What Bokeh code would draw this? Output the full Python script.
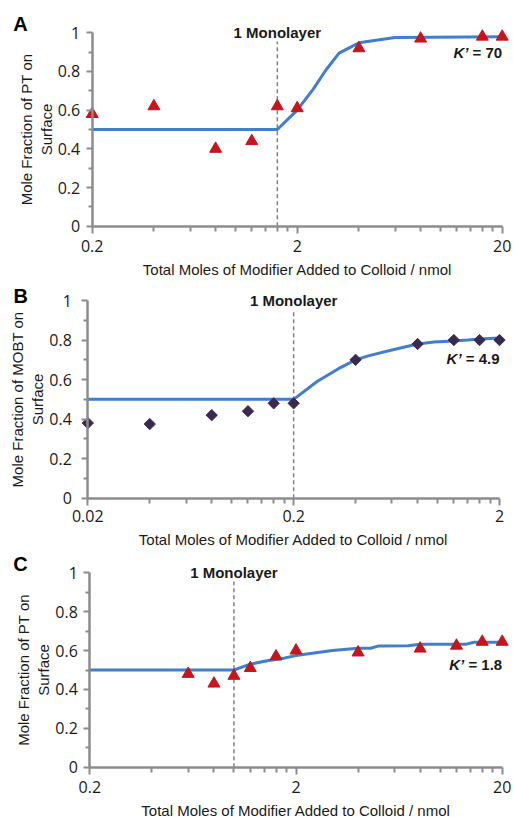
import math
import numpy as np
from bokeh.plotting import figure
from bokeh.layouts import column
from bokeh.models import Range1d, FixedTicker, CustomJSTickFormatter, Label
from bokeh.embed import file_html
from bokeh.resources import INLINE

# ---------------- data ----------------
# Panel A (PT)
a_x = [0.2, 0.4, 0.8, 1.2, 1.6, 2.0, 4.0, 8.0, 16.0, 20.0]
a_y = [0.58, 0.62, 0.40, 0.44, 0.62, 0.61, 0.92, 0.97, 0.98, 0.98]
a_fit_x = [0.2, 1.6, 2.0, 2.4, 2.75, 3.2, 4.0, 6.0, 20.0]
a_fit_y = [0.5, 0.5, 0.60, 0.71, 0.805, 0.895, 0.948, 0.976, 0.98]
a_mono = 1.6
a_k = "70"
a_k_y = 0.90
a_xticks = [0.2, 2, 20]

# Panel B (MOBT)
b_x = [0.02, 0.04, 0.08, 0.12, 0.16, 0.2, 0.4, 0.8, 1.2, 1.6, 2.0]
b_y = [0.38, 0.375, 0.42, 0.44, 0.48, 0.48, 0.70, 0.78, 0.80, 0.80, 0.80]
b_fit_x = [0.02, 0.2, 0.26, 0.33, 0.4, 0.46, 0.6, 0.8, 0.96, 1.2, 1.4, 1.6, 2.0]
b_fit_y = [0.5, 0.5, 0.59, 0.655, 0.70, 0.72, 0.75, 0.78, 0.79, 0.795, 0.80, 0.805, 0.81]
b_mono = 0.2
b_k = "4.9"
b_k_y = 0.705
b_xticks = [0.02, 0.2, 2]

# Panel C (PT)
c_x = [0.6, 0.8, 1.0, 1.2, 1.6, 2.0, 4.0, 8.0, 12.0, 16.0, 20.0]
c_y = [0.48, 0.43, 0.47, 0.51, 0.57, 0.60, 0.59, 0.61, 0.625, 0.645, 0.645]
c_fit_x = [0.2, 1.0, 1.2, 1.45, 1.75, 2.0, 3.0, 4.0, 4.6, 5.0, 7.0, 8.0, 13.4, 14.6, 20.0]
c_fit_y = [0.5, 0.5, 0.53, 0.548, 0.561, 0.575, 0.60, 0.612, 0.612, 0.623, 0.625, 0.633, 0.633, 0.643, 0.643]
c_mono = 1.0
c_k = "1.8"
c_k_y = 0.53
c_xticks = [0.2, 2, 20]

y_ticks = [0, 0.2, 0.4, 0.6, 0.8, 1.0]
y_minor = [0.1, 0.3, 0.5, 0.7, 0.9]

RED = "#C4161C"
BLUE = "#3F7FCB"
PURPLE = "#3B2A50"
AXIS = "#8C8C8C"
TXT = "#1A1A1A"
SANS = "Liberation Sans"
TICKFONT = "Open Sans"
W = 513

BOLD_W = {"=": 584, " ": 278, ".": 278}


def bold_width(s, size):
    return sum(BOLD_W.get(ch, 556) for ch in s) * size / 1000.0


def panel(letter, xs, ys, fx, fy, marker, mangle, msize, mcolor, mono, kval, k_y,
          xticks, ylabel, H, px_left, px_right, px_top, px_bottom,
          x_standoff, y_standoff, letter_left, letter_cy):
    xmin, xmax = xticks[0], xticks[-1]
    dec = (px_right - px_left) / (math.log10(xmax) - math.log10(xmin))
    x0 = 10 ** (math.log10(xmin) - px_left / dec)
    x1 = 10 ** (math.log10(xmax) + (W - px_right) / dec)
    u = px_bottom - px_top
    y0 = -(H - px_bottom) / u
    y1 = 1 + px_top / u

    p = figure(width=W, height=H, x_axis_type="log", title=None,
               x_range=Range1d(x0, x1), y_range=Range1d(y0, y1),
               min_border=0, min_border_left=0, min_border_right=0,
               min_border_top=0, min_border_bottom=0,
               output_backend="svg", toolbar_location=None)
    p.outline_line_color = None
    p.xgrid.visible = False
    p.ygrid.visible = False
    p.background_fill_color = "white"
    p.border_fill_color = "white"

    minor = []
    for d in xticks[:-1]:
        minor += [round(d * k, 6) for k in range(2, 10)]

    xa = p.xaxis[0]
    xa.ticker = FixedTicker(ticks=xticks, minor_ticks=minor)
    xa.formatter = CustomJSTickFormatter(code="return tick.toString()")
    xa.bounds = (xmin, xmax)
    xa.fixed_location = 0
    ya = p.yaxis[0]
    ya.ticker = FixedTicker(ticks=y_ticks, minor_ticks=y_minor)
    ya.formatter = CustomJSTickFormatter(code="return tick.toString()")
    ya.bounds = (0, 1)
    ya.fixed_location = xmin

    for ax in (xa, ya):
        ax.axis_line_color = AXIS
        ax.axis_line_width = 2.5
        ax.major_tick_line_color = AXIS
        ax.major_tick_line_width = 2
        ax.minor_tick_line_color = AXIS
        ax.minor_tick_line_width = 2
        ax.major_tick_in = 0
        ax.minor_tick_in = 0
        ax.major_label_text_font = TICKFONT
        ax.major_label_text_font_size = "16px"
        ax.major_label_text_color = TXT
        ax.axis_label_text_font = SANS
        ax.axis_label_text_font_size = "15px"
        ax.axis_label_text_font_style = "normal"
        ax.axis_label_text_color = TXT
        ax.axis_label_text_align = "center"
    xa.major_tick_out = 7
    xa.minor_tick_out = 5
    xa.major_label_standoff = x_standoff
    xa.axis_label_standoff = 5
    xa.axis_label = "Total Moles of Modifier Added to Colloid / nmol"
    ya.major_tick_out = 6
    ya.minor_tick_out = 4
    ya.major_label_standoff = y_standoff
    ya.axis_label_standoff = 0
    ya.axis_label = ylabel

    # monolayer dashed marker
    p.segment(x0=[mono], y0=[0], x1=[mono], y1=[0.955], line_color="#808080",
              line_width=1.5, line_dash="4 3")
    # fit line
    p.line(fx, fy, line_color=BLUE, line_width=3)
    # data points
    p.scatter(xs, ys, marker=marker, angle=mangle, size=msize,
              fill_color=mcolor, line_color=mcolor)

    p.add_layout(Label(x=mono, y=1.0, text="1 Monolayer", text_font=SANS,
                       text_font_style="bold", text_font_size="15px",
                       text_color=TXT, text_align="center", text_baseline="middle"))
    rest = " = " + kval
    p.add_layout(Label(x=xmax, y=k_y, text="= " + kval, text_font=SANS,
                       text_font_style="bold", text_font_size="15px",
                       text_color=TXT, text_align="right", text_baseline="middle"))
    p.add_layout(Label(x=xmax, y=k_y, x_offset=-bold_width(rest, 15), text="K\u2019",
                       text_font=SANS, text_font_style="bold italic",
                       text_font_size="15px", text_color=TXT,
                       text_align="right", text_baseline="middle"))
    p.add_layout(Label(x=xmin, y=1.0, x_offset=letter_left - px_left,
                       y_offset=px_top - letter_cy,
                       text=letter, text_font=SANS, text_font_style="bold",
                       text_font_size="20px", text_color="black",
                       text_align="left", text_baseline="middle"))
    return p


pa = panel("A", a_x, a_y, a_fit_x, a_fit_y, "triangle", 0, 12, RED, a_mono, a_k, a_k_y,
           a_xticks, "Mole Fraction of PT on\nSurface",
           280, 91.7, 501.7, 32.3, 225.7, 7, 6, 12.7, 23.7)
pb = panel("B", b_x, b_y, b_fit_x, b_fit_y, "square", np.pi / 4, 8, PURPLE, b_mono, b_k, b_k_y,
           b_xticks, "Mole Fraction of MOBT on\nSurface",
           270, 87.3, 499.0, 20.0, 217.7, 5, 10, 13.0, 15.8)
pc = panel("C", c_x, c_y, c_fit_x, c_fit_y, "triangle", 0, 12, RED, c_mono, c_k, c_k_y,
           c_xticks, "Mole Fraction of PT on\nSurface",
           267, 89.3, 501.7, 22.3, 216.7, 7, 6, 12.7, 13.3)

layout = column(pa, pb, pc, spacing=0)
open("out.html", "w").write(file_html(layout, INLINE))
